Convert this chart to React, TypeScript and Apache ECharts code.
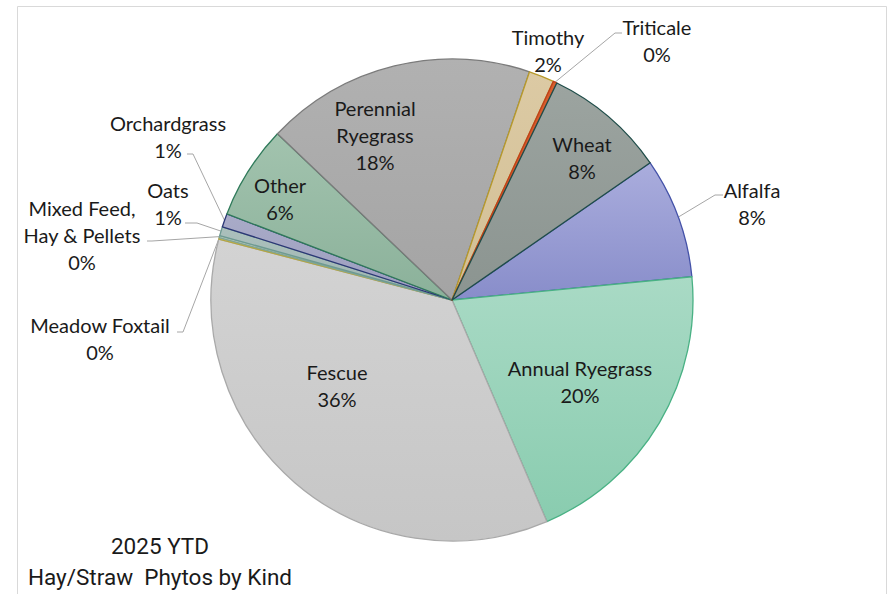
import React, { useEffect, useRef } from 'react';
import * as echarts from 'echarts';

// ---- data ----
const categories = [
  'Alfalfa',
  'Annual Ryegrass',
  'Fescue',
  'Meadow Foxtail',
  'Mixed Feed, Hay & Pellets',
  'Oats',
  'Orchardgrass',
  'Other',
  'Perennial Ryegrass',
  'Timothy',
  'Triticale',
  'Wheat',
];
const values = [8.1, 20.1, 35.5, 0.1, 0.15, 0.6, 0.9, 6.3, 18.1, 1.7, 0.25, 8.2];
const titleLines = ['2025 YTD', 'Hay/Straw  Phytos by Kind'];

// ---- styling ----
const wrapNames: Record<string, string> = {
  'Perennial Ryegrass': 'Perennial\nRyegrass',
  'Mixed Feed, Hay & Pellets': 'Mixed Feed,\nHay & Pellets',
};
const sliceStyle: Record<string, { top: string; bottom: string; border: string }> = {
  Alfalfa: { top: '#aaaddd', bottom: '#888dca', border: '#4452a8' },
  'Annual Ryegrass': { top: '#a9dac5', bottom: '#89ccaf', border: '#49b184' },
  Fescue: { top: '#d3d3d3', bottom: '#c6c6c6', border: '#a9a9a9' },
  'Meadow Foxtail': { top: '#cfd2a4', bottom: '#c8cb9a', border: '#b5a642' },
  'Mixed Feed, Hay & Pellets': { top: '#b4c6bc', bottom: '#adbfb5', border: '#7fa596' },
  Oats: { top: '#abc0bc', bottom: '#a0b6b2', border: '#6e9a92' },
  Orchardgrass: { top: '#a9abc8', bottom: '#9b9dbe', border: '#2b3775' },
  Other: { top: '#a2c3ae', bottom: '#8bb19a', border: '#2f7a5a' },
  'Perennial Ryegrass': { top: '#b1b1b1', bottom: '#a4a4a4', border: '#7b7b7b' },
  Timothy: { top: '#dccaa4', bottom: '#d2bf95', border: '#b89a2a' },
  Triticale: { top: '#d6602f', bottom: '#cc5226', border: '#c0401a' },
  Wheat: { top: '#9ca4a0', bottom: '#8b9490', border: '#1f4d49' },
};
type LabelPos = { x: number; y: number; inside: boolean; line?: number[][] };
const labelPos: Record<string, LabelPos> = {
  Alfalfa: { x: 752, y: 203, inside: false, line: [[715, 195], [723, 195]] },
  'Annual Ryegrass': { x: 580, y: 381, inside: true },
  Fescue: { x: 337, y: 385, inside: true },
  'Meadow Foxtail': { x: 100, y: 338, inside: false, line: [[183, 332], [177, 332]] },
  'Mixed Feed, Hay & Pellets': { x: 82, y: 235, inside: false, line: [[152, 241], [147, 241]] },
  Oats: { x: 168, y: 203, inside: false, line: [[197, 223], [185, 223]] },
  Orchardgrass: { x: 168, y: 136, inside: false, line: [[193, 154], [187, 154]] },
  Other: { x: 280, y: 198, inside: true },
  'Perennial Ryegrass': { x: 375, y: 135, inside: true },
  Timothy: { x: 548, y: 50, inside: false },
  Triticale: { x: 657, y: 40, inside: false, line: [[615, 33], [622, 33]] },
  Wheat: { x: 582, y: 157, inside: true },
};

const LABEL_FONT = 'Lato, "Noto Sans", sans-serif';

export default function App() {
  const ref = useRef<HTMLDivElement>(null);
  useEffect(() => {
    if (!ref.current) return;
    const chart = echarts.init(ref.current, undefined, { renderer: 'svg' });
    const data = categories.map((name, i) => {
      const s = sliceStyle[name];
      const lp = labelPos[name];
      return {
        name,
        value: values[i],
        itemStyle: {
          color: new echarts.graphic.LinearGradient(0, 0, 0, 1, [
            { offset: 0, color: s.top },
            { offset: 1, color: s.bottom },
          ]),
          borderColor: s.border,
          borderWidth: 1.3,
        },
        label: { position: lp.inside ? 'inside' : 'outside' },
        labelLine: { show: !!lp.line },
      };
    });
    chart.setOption({
      animation: false,
      backgroundColor: '#ffffff',
      graphic: [
        {
          type: 'rect',
          silent: true,
          z: -10,
          shape: { x: 17.5, y: 6.5, width: 869, height: 620 },
          style: { fill: 'none', stroke: '#d9d9d9', lineWidth: 1 },
        },
        ...titleLines.map((t, i) => ({
          type: 'text',
          silent: true,
          x: 160,
          y: 546 + i * 31,
          style: {
            text: t,
            fill: '#1a1a1a',
            font: '22.5px Roboto, "Noto Sans", sans-serif',
            textAlign: 'center',
            textVerticalAlign: 'middle',
          },
        })),
      ],
      series: [
        {
          type: 'pie',
          center: [452, 300],
          radius: 241,
          startAngle: 34.7,
          clockwise: true,
          avoidLabelOverlap: false,
          minAngle: 0,
          data,
          label: {
            show: true,
            color: '#1a1a1a',
            fontFamily: LABEL_FONT,
            fontSize: 20,
            lineHeight: 27,
            align: 'center',
            overflow: 'none',
            formatter: (p: any) => `${wrapNames[p.name] || p.name}\n${Math.round(p.percent)}%`,
          },
          labelLine: {
            show: true,
            lineStyle: { color: '#a6a6a6', width: 1 },
          },
          labelLayout: (params: any) => {
            const name = categories[params.dataIndex];
            const lp = labelPos[name];
            const res: any = { x: lp.x, y: lp.y, align: 'center', verticalAlign: 'middle' };
            if (lp.line && params.labelLinePoints && params.labelLinePoints.length) {
              res.labelLinePoints = [params.labelLinePoints[0], ...lp.line];
            }
            return res;
          },
        },
      ],
    });
    return () => chart.dispose();
  }, []);
  return (
    <div
      ref={ref}
      style={{ position: 'fixed', left: 0, top: 0, width: 893, height: 594, background: '#fff' }}
    />
  );
}
